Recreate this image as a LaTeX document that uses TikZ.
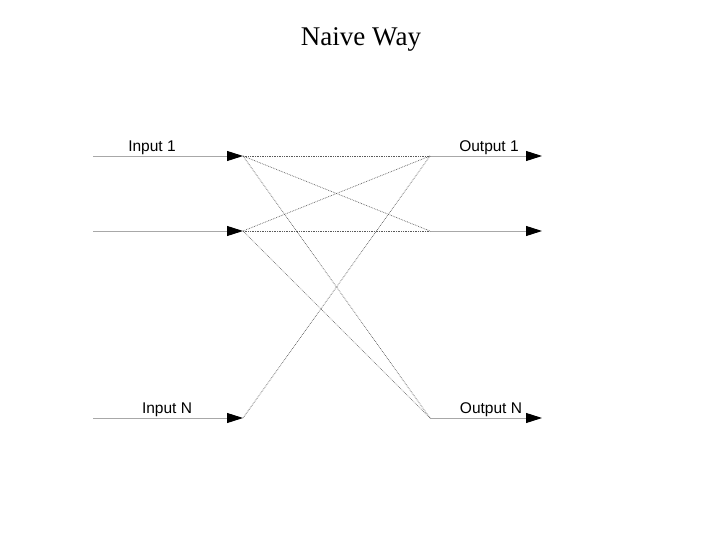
\documentclass[tikz,border=0pt]{standalone}
\usepackage{fontspec}
\setmainfont{Liberation Serif}
\newfontfamily\portfont{Liberation Sans}
\usetikzlibrary{arrows.meta, positioning}
\definecolor{FeedGray}{HTML}{A8A8A8}
\definecolor{LinkGray}{HTML}{5A5A5A}

\begin{document}
\begin{tikzpicture}[
        x=1pt, y=-1pt,
        feed/.style={draw=FeedGray, line width=0.9pt, -{Triangle[length=16pt, width=10pt, color=black]}},
        link/.style={draw=LinkGray, line width=0.7pt, densely dotted},
        port/.style={font=\portfont\fontsize{15.5}{18}\selectfont, inner sep=0pt, anchor=base}
      ]
        \useasboundingbox (0,0) rectangle (720,540);
        \node[font=\fontsize{27}{32}\selectfont, anchor=base] (title) at (361,46) {Naive Way};

        % inputs
        \coordinate (in1a) at (93,156);  \coordinate (in1) at (243,156);
        \coordinate (in2a) at (93,231);  \coordinate (in2) at (243,231);
        \coordinate (inNa) at (93,418);  \coordinate (inN) at (243,418);
        % outputs
        \coordinate (out1) at (430,156); \coordinate (out1b) at (542,156);
        \coordinate (out2) at (430,231); \coordinate (out2b) at (542,231);
        \coordinate (outN) at (430,418); \coordinate (outNb) at (542,418);

        \node[port] (lin1) at (152,152) {Input 1};
        \node[port] (linN) at (167,413) {Input N};
        \node[port] (lout1) at (489,152) {Output 1};
        \node[port] (loutN) at (491,413) {Output N};

        \draw[feed] (in1a) -- (in1);
        \draw[feed] (in2a) -- (in2);
        \draw[feed] (inNa) -- (inN);
        \draw[feed] (out1) -- (out1b);
        \draw[feed] (out2) -- (out2b);
        \draw[feed] (outN) -- (outNb);

        \draw[link] (in1) -- (out1);
        \draw[link] (in1) -- (out2);
        \draw[link] (in1) -- (outN);
        \draw[link] (in2) -- (out1);
        \draw[link] (in2) -- (out2);
        \draw[link] (in2) -- (outN);
        \draw[link] (inN) -- (out1);
      \end{tikzpicture}
\end{document}
